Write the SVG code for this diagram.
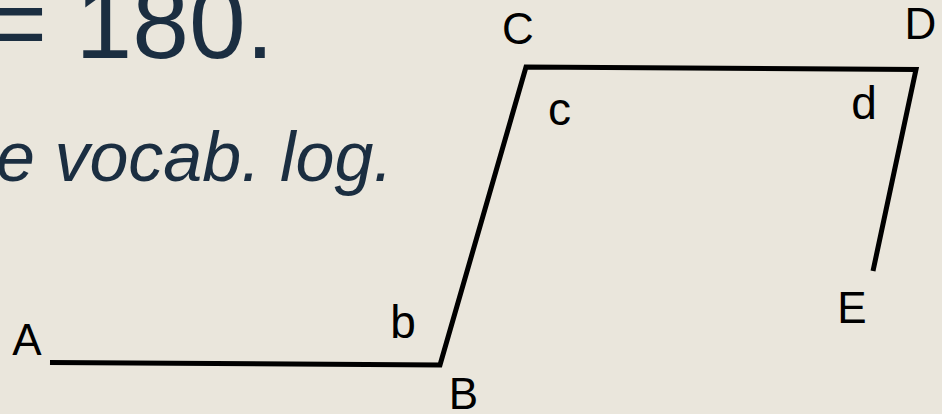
<svg xmlns="http://www.w3.org/2000/svg" width="942" height="414" viewBox="0 0 942 414">
<style>
.title{font-family:"Liberation Sans",Arial,sans-serif;fill:#1B2E41}
.lbl{font-family:"Liberation Sans",Arial,sans-serif;fill:#000;text-anchor:middle}
.up{font-size:44px}
.lo{font-size:46px}
.edge{fill:none;stroke:#000;stroke-width:5;stroke-linejoin:miter;stroke-linecap:butt}
</style>
<rect width="942" height="414" fill="#EAE6DC"/>
<g id="heading">
<text class="title" x="274" y="58" font-size="102" text-anchor="end">= 180.</text>
<text class="title" x="-4" y="181" font-size="70" font-style="italic">e vocab. log.</text>
</g>
<g id="connectors">
<path class="edge" d="M50,362.5 L440,365 L526,67 L916,69.5 L873,271"/>
</g>
<g id="point-A"><text class="lbl up" x="27" y="355">A</text></g>
<g id="point-B"><text class="lbl up" x="463.5" y="409">B</text></g>
<g id="point-C"><text class="lbl up" x="518" y="44">C</text></g>
<g id="point-D"><text class="lbl up" x="920.5" y="39">D</text></g>
<g id="point-E"><text class="lbl up" x="852" y="323">E</text></g>
<g id="angle-b"><text class="lbl lo" x="403" y="338">b</text></g>
<g id="angle-c"><text class="lbl lo" x="559.5" y="125">c</text></g>
<g id="angle-d"><text class="lbl lo" x="864" y="119">d</text></g>
</svg>
